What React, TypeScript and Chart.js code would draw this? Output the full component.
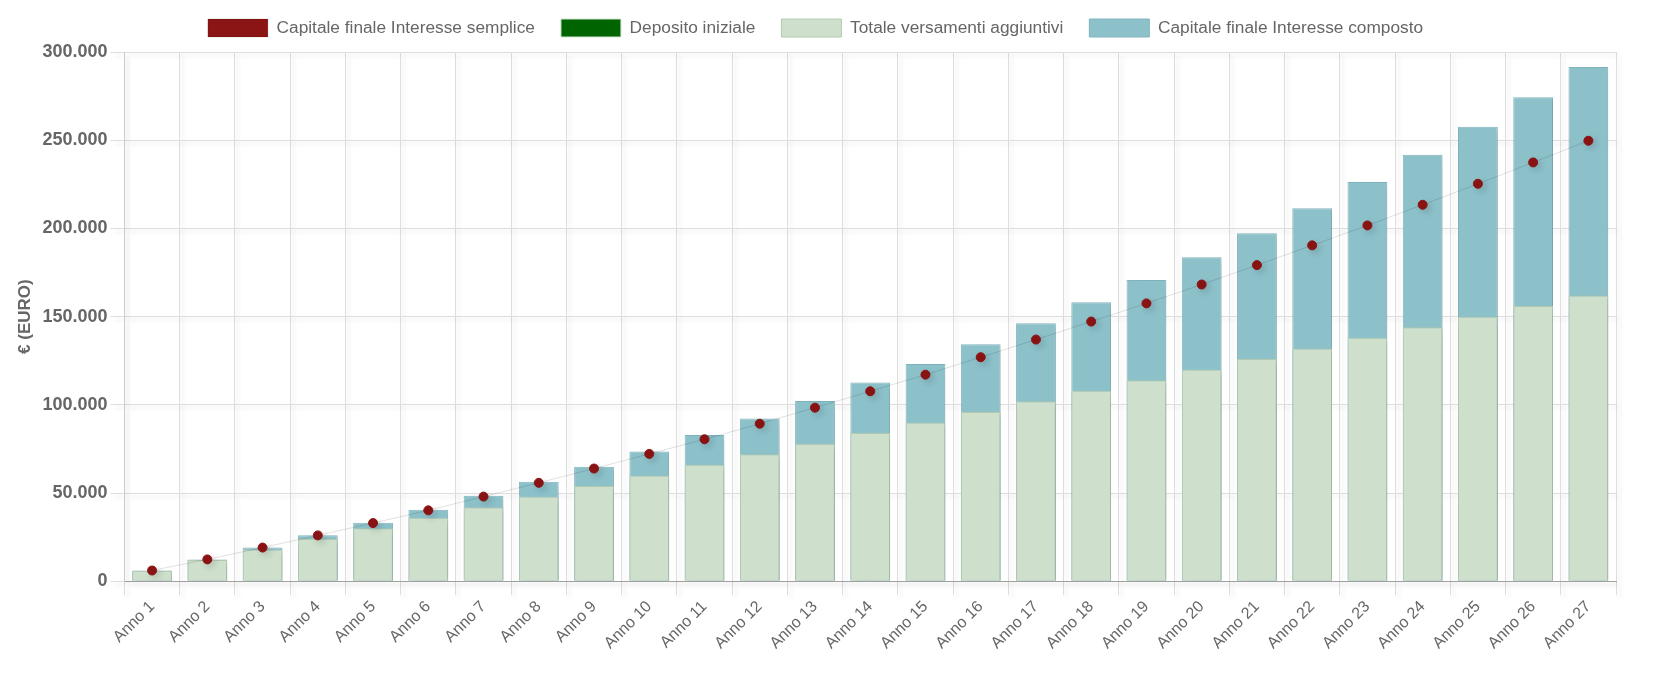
import React, { useEffect, useRef } from "react";
import { Chart, registerables } from "chart.js";

Chart.register(...registerables);

const years = [
  "Anno 1", "Anno 2", "Anno 3", "Anno 4", "Anno 5", "Anno 6", "Anno 7", "Anno 8", "Anno 9",
  "Anno 10", "Anno 11", "Anno 12", "Anno 13", "Anno 14", "Anno 15", "Anno 16", "Anno 17", "Anno 18",
  "Anno 19", "Anno 20", "Anno 21", "Anno 22", "Anno 23", "Anno 24", "Anno 25", "Anno 26", "Anno 27",
];

const capitaleSemplice = [
  6100, 12400, 19100, 26000, 33000, 40200, 48000, 55800, 63900,
  72200, 80500, 89300, 98400, 107700, 117100, 127000, 137000, 147200,
  157500, 168200, 179200, 190400, 201700, 213400, 225300, 237400, 249700,
];

const depositoIniziale = [
  0, 0, 0, 0, 0, 0, 0, 0, 0,
  0, 0, 0, 0, 0, 0, 0, 0, 0,
  0, 0, 0, 0, 0, 0, 0, 0, 0,
];

const versamentiAggiuntivi = [
  6000, 12000, 18000, 24000, 30000, 36000, 42000, 48000, 54000,
  60000, 66000, 72000, 78000, 84000, 90000, 96000, 102000, 108000,
  114000, 120000, 126000, 132000, 138000, 144000, 150000, 156000, 162000,
];

const capitaleComposto = [
  6100, 12300, 19200, 26100, 33200, 40600, 48500, 56400, 64900,
  73600, 82900, 92200, 102200, 112600, 123200, 134300, 146200, 158100,
  170700, 183700, 197300, 211500, 226300, 241800, 257700, 274300, 291500,
];

const FONT = "'Liberation Sans', Arial, sans-serif";
const TEXT = "#666666";
const LEGEND_GAP = 5;

// Italian style thousands separator: 250000 -> "250.000"
const formatEuro = (v: number | string) =>
  String(Math.round(Number(v))).replace(/\B(?=(\d{3})+(?!\d))/g, ".");

// Soft drop shadow under grid lines, axis lines and the plotted marks;
// also leaves a little extra room between the legend and the plot.
const shadowPlugin = {
  id: "softShadow",
  afterInit(chart: any) {
    const legend = chart.legend;
    if (legend && !legend.__extended) {
      legend.__extended = true;
      const fit = legend.fit.bind(legend);
      legend.fit = () => {
        fit();
        legend.height += LEGEND_GAP;
      };
    }
  },
  beforeDraw(chart: any) {
    Object.values(chart.scales).forEach((scale: any) => {
      if (scale.__shadowed) return;
      scale.__shadowed = true;
      const wrap = (name: string) => {
        const orig = scale[name].bind(scale);
        scale[name] = (...args: any[]) => {
          const ctx = scale.ctx;
          ctx.save();
          ctx.shadowColor = "rgba(0,0,0,0.14)";
          ctx.shadowBlur = 5;
          ctx.shadowOffsetX = 3;
          ctx.shadowOffsetY = 3;
          orig(...args);
          ctx.restore();
        };
      };
      wrap("drawGrid");
      wrap("drawBorder");
    });
  },
  beforeDatasetsDraw(chart: any) {
    const ctx = chart.ctx;
    ctx.save();
    ctx.shadowColor = "rgba(0,0,0,0.14)";
    ctx.shadowBlur = 7;
    ctx.shadowOffsetX = 3;
    ctx.shadowOffsetY = 3;
  },
  afterDatasetsDraw(chart: any) {
    chart.ctx.restore();
  },
};

export default function App() {
  const canvasRef = useRef<HTMLCanvasElement | null>(null);

  useEffect(() => {
    if (!canvasRef.current) return;
    const chart = new Chart(canvasRef.current, {
      type: "bar",
      data: {
        labels: years,
        datasets: [
          {
            type: "line",
            label: "Capitale finale Interesse semplice",
            data: capitaleSemplice,
            backgroundColor: "#8b1414",
            borderColor: "rgba(0,0,0,0.12)",
            borderWidth: 1,
            pointBackgroundColor: "#8b1414",
            pointBorderColor: "#8b1414",
            pointRadius: 4.5,
            pointBorderWidth: 1,
            fill: false,
            tension: 0,
          },
          {
            label: "Deposito iniziale",
            data: depositoIniziale,
            backgroundColor: "#006400",
            borderColor: "#cfe3cf",
            borderWidth: 1,
          },
          {
            label: "Totale versamenti aggiuntivi",
            data: versamentiAggiuntivi,
            backgroundColor: "#cee0cc",
            borderColor: "#b5ccb2",
            borderWidth: 1,
          },
          {
            label: "Capitale finale Interesse composto",
            data: capitaleComposto,
            backgroundColor: "#8dc1ca",
            borderColor: "#82b6bf",
            borderWidth: 1,
          },
        ],
      },
      options: {
        responsive: true,
        maintainAspectRatio: false,
        animation: false,
        layout: { padding: { top: 2, right: 29, bottom: 20, left: 7 } },
        plugins: {
          legend: {
            position: "top",
            labels: {
              boxWidth: 60,
              boxHeight: 18,
              padding: 26,
              color: TEXT,
              font: { family: FONT, size: 17.3 },
            },
          },
          tooltip: { enabled: false },
        },
        scales: {
          x: {
            stacked: true,
            grid: {
              color: "#dedede",
              tickLength: 14,
              offset: true,
            },
            border: { color: "#a0a0a0" },
            ticks: {
              color: TEXT,
              font: { family: FONT, size: 16 },
              autoSkip: false,
              maxRotation: 45,
              minRotation: 45,
              padding: 2,
            },
          },
          y: {
            stacked: false,
            min: 0,
            max: 300000,
            grid: { color: "#dedede", tickLength: 14 },
            border: { color: "#cccccc" },
            ticks: {
              stepSize: 50000,
              color: TEXT,
              padding: 3,
              font: { family: FONT, size: 18, weight: "bold" },
              callback: (v: any) => formatEuro(v),
            },
            title: {
              display: true,
              text: "€ (EURO)",
              color: TEXT,
              font: { family: FONT, size: 17, weight: "bold" },
              padding: { top: 0, bottom: 4 },
            },
          },
        },
      },
      plugins: [shadowPlugin],
    } as any);
    return () => chart.destroy();
  }, []);

  return (
    <div style={{ position: "relative", width: "100%", height: "684px", marginTop: "-17px" }}>
      <canvas ref={canvasRef} />
    </div>
  );
}
